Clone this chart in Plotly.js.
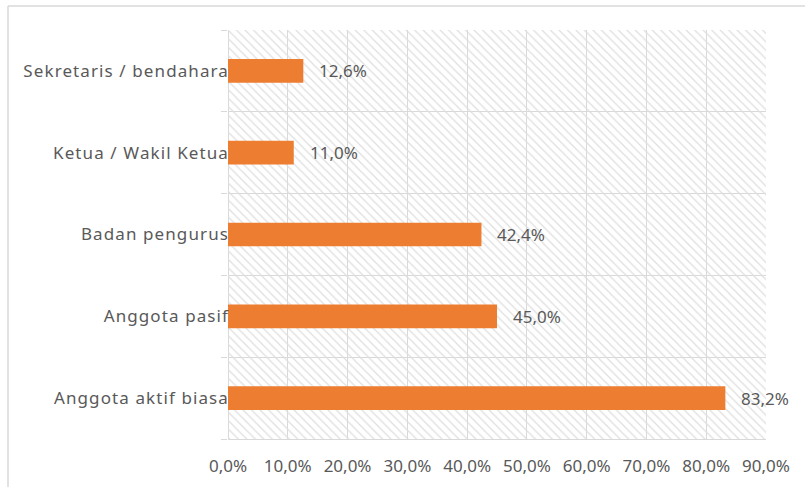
<!DOCTYPE html>
<html>
<head>
<meta charset="utf-8">
<script src="https://cdn.plot.ly/plotly-3.0.1.min.js"></script>
<style>
  html, body { margin: 0; padding: 0; background: #fff; }
  #chart { width: 805px; height: 487px; }
</style>
</head>
<body>
<div id="chart"></div>
<script>
// Data (bottom to top)
const categories = ["Anggota aktif biasa", "Anggota pasif", "Badan pengurus", "Ketua / Wakil Ketua", "Sekretaris / bendahara"];
const values = [83.2, 45.0, 42.4, 11.0, 12.6];
const xTickVals = [0, 10, 20, 30, 40, 50, 60, 70, 80, 90];
const xTickText = ["0,0%", "10,0%", "20,0%", "30,0%", "40,0%", "50,0%", "60,0%", "70,0%", "80,0%", "90,0%"];
const xMax = 90;

const fmt = v => v.toFixed(1).replace('.', ',') + '%';
const textColor = '#595959';
const gridColor = '#d9d9d9';
const fontFamily = '"Noto Sans", "Open Sans", sans-serif';

// Hatched plot-area background
const hatch = {
  type: 'bar',
  orientation: 'h',
  y: categories,
  x: categories.map(() => xMax),
  width: 1,
  marker: {
    color: 'rgba(0,0,0,0)',
    line: { width: 0 },
    pattern: { shape: '\\', fgcolor: '#dedede', bgcolor: 'rgba(0,0,0,0)', size: 6, solidity: 0.2, fillmode: 'replace' }
  },
  hoverinfo: 'skip',
  showlegend: false
};

const bars = {
  type: 'bar',
  orientation: 'h',
  y: categories,
  x: values,
  width: 0.29,
  marker: { color: '#ED7D31', line: { width: 0 } },
  showlegend: false
};

const annotations = categories.map((c, i) => ({
  x: values[i], y: c, xref: 'x', yref: 'y',
  text: fmt(values[i]),
  showarrow: false, xanchor: 'left', xshift: 14,
  font: { family: fontFamily, size: 17, color: textColor }
}));

const layout = {
  width: 805, height: 487,
  margin: { l: 228, r: 39, t: 30, b: 48 },
  paper_bgcolor: '#ffffff',
  plot_bgcolor: 'rgba(0,0,0,0)',
  barmode: 'overlay',
  font: { family: fontFamily, size: 17, color: textColor },
  xaxis: {
    range: [0, xMax],
    tickvals: xTickVals,
    ticktext: xTickText,
    showgrid: true, gridcolor: gridColor, gridwidth: 1,
    zeroline: true, zerolinecolor: gridColor, zerolinewidth: 1,
    showline: true, linecolor: gridColor, linewidth: 1,
    ticks: '', ticklabelstandoff: 12,
    tickfont: { family: fontFamily, size: 17, color: textColor },
    fixedrange: true
  },
  yaxis: {
    type: 'category',
    categoryorder: 'array', categoryarray: categories,
    range: [-0.5, categories.length - 0.5],
    tickson: 'boundaries',
    ticks: 'outside', ticklen: 6, tickcolor: gridColor, tickwidth: 1,
    showgrid: true, gridcolor: gridColor, gridwidth: 1,
    zeroline: false, showline: false,
    ticklabelstandoff: -2,
    tickfont: { family: fontFamily, size: 17, color: textColor },
    fixedrange: true
  },
  annotations: annotations,
  shapes: [
    { type: 'line', xref: 'paper', yref: 'paper', xsizemode: 'pixel', ysizemode: 'pixel',
      xanchor: 0, yanchor: 1, x0: -220, x1: 600, y0: 24, y1: 24,
      line: { color: gridColor, width: 1.5 } },
    { type: 'line', xref: 'paper', yref: 'paper', xsizemode: 'pixel', ysizemode: 'pixel',
      xanchor: 0, yanchor: 1, x0: -220, x1: -220, y0: 24, y1: -500,
      line: { color: gridColor, width: 1.5 } }
  ]
};

Plotly.newPlot('chart', [hatch, bars], layout, { displayModeBar: false, staticPlot: true }).then(gd => {
  // Widen the category labels slightly, as in the original
  gd.querySelectorAll('.ytick text').forEach(t => { t.style.letterSpacing = '1.1px'; });
});
</script>
</body>
</html>
